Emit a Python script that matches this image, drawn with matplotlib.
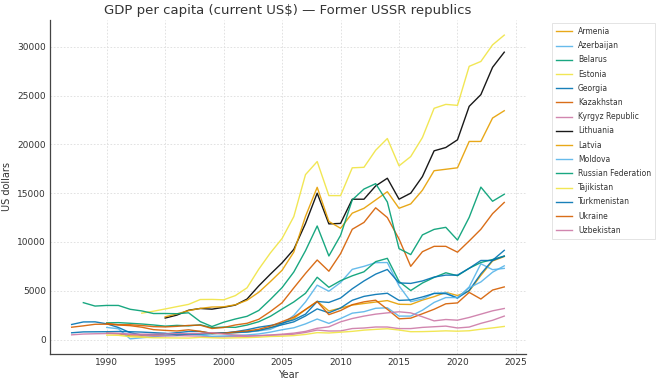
import numpy as np
import matplotlib
matplotlib.use("Agg")
import matplotlib.pyplot as plt

years = list(range(1987, 2025))
N = np.nan

armenia = [N, N, N, 640, 590, 370, 360, 400, 455, 510, 525, 610, 600, 620, 700, 780, 920, 1190, 1640, 2160, 3070, 3920, 2920, 3220, 3530, 3690, 3840, 3990, 3610, 3590, 4040, 4390, 4830, 4510, 4970, 6570, 8050, 8500]
azerbaijan = [N, N, N, 1237, 1100, 70, 180, 280, 400, 410, 505, 560, 575, 655, 705, 765, 885, 1045, 1580, 2470, 3850, 5570, 4950, 5840, 7190, 7500, 7880, 7890, 5500, 3880, 4150, 4740, 4810, 4230, 5390, 7760, 7160, 7290]
belarus = [N, N, N, 1705, 1730, 1665, 1590, 1490, 1370, 1450, 1400, 1510, 1210, 1275, 1245, 1480, 1820, 2380, 3125, 3850, 4735, 6380, 5350, 6030, 6530, 6940, 7980, 8320, 5950, 5020, 5790, 6360, 6840, 6540, 7300, 7890, 8200, 8550]
estonia = [N, N, N, N, N, N, 2700, 2900, 3130, 3370, 3600, 4100, 4110, 4070, 4500, 5300, 7200, 8880, 10360, 12600, 16900, 18240, 14750, 14750, 17600, 17650, 19400, 20600, 17800, 18750, 20700, 23700, 24100, 24000, 28000, 28500, 30200, 31200]
georgia = [1540, 1800, 1810, 1610, 1230, 700, 460, 520, 580, 700, 820, 830, 620, 690, 730, 780, 930, 1220, 1510, 1810, 2410, 3140, 2740, 3230, 4020, 4420, 4620, 4740, 4010, 4060, 4360, 4720, 4700, 4260, 5020, 6730, 8120, 9140]
kazakhstan = [N, N, N, 1650, 1510, 1515, 1435, 1320, 1290, 1350, 1445, 1470, 1130, 1230, 1490, 1660, 2070, 2870, 3770, 5290, 6770, 8150, 7000, 8800, 11300, 12000, 13500, 12500, 10300, 7500, 9000, 9550, 9550, 8950, 10100, 11300, 12900, 14050]
kyrgyz = [480, 560, 590, 610, 590, 520, 450, 380, 365, 395, 375, 345, 258, 280, 308, 322, 381, 433, 476, 543, 722, 966, 871, 880, 1124, 1178, 1282, 1280, 1121, 1120, 1242, 1308, 1374, 1182, 1276, 1655, 1970, 2400]
lithuania = [N, N, N, N, N, N, N, N, 2200, 2500, 3000, 3180, 3110, 3300, 3530, 4150, 5490, 6700, 7860, 9240, 11890, 15000, 11850, 11900, 14380, 14380, 15740, 16530, 14380, 15000, 16700, 19340, 19680, 20470, 23900, 25100, 27900, 29450]
latvia = [N, N, N, N, N, N, N, N, 2330, 2620, 2960, 3190, 3330, 3350, 3560, 4020, 4840, 5940, 7100, 8960, 12620, 15600, 12100, 11400, 12950, 13450, 14300, 15150, 13450, 13900, 15300, 17300, 17450, 17600, 20300, 20300, 22700, 23450]
moldova = [N, N, N, N, N, N, N, N, 500, 520, 560, 470, 330, 360, 410, 470, 570, 760, 1000, 1200, 1600, 2100, 1650, 2150, 2700, 2850, 3200, 3250, 2400, 2400, 3000, 3800, 4300, 4300, 5300, 5900, 6900, 7550]
russia = [N, 3777, 3428, 3493, 3490, 3098, 2929, 2663, 2666, 2644, 2738, 1835, 1331, 1772, 2101, 2378, 2976, 4109, 5323, 6920, 9101, 11635, 8563, 10675, 14311, 15421, 15974, 14096, 9313, 8704, 10720, 11287, 11498, 10194, 12520, 15620, 14170, 14890]
tajikistan = [N, N, N, 450, 430, 280, 230, 180, 170, 160, 150, 215, 175, 139, 170, 190, 237, 310, 337, 400, 520, 706, 668, 749, 835, 960, 1039, 1104, 969, 800, 809, 842, 889, 852, 897, 1054, 1188, 1340]
turkmenistan = [690, 780, 790, 800, 820, 800, 760, 700, 640, 480, 560, 570, 640, 650, 800, 1000, 1260, 1440, 1680, 2020, 2600, 3900, 3800, 4250, 5200, 6000, 6700, 7180, 5800, 5750, 6000, 6400, 6600, 6600, 7300, 8100, 8100, 8550]
ukraine = [1260, 1400, 1560, 1570, 1490, 1420, 1260, 1010, 935, 875, 995, 835, 635, 636, 780, 880, 1050, 1370, 1830, 2300, 3070, 3890, 2550, 2970, 3570, 3860, 4030, 3100, 2120, 2190, 2640, 3100, 3660, 3750, 4830, 4150, 5070, 5390]
uzbekistan = [N, N, N, 650, 640, 560, 550, 540, 580, 600, 600, 620, 700, 560, 460, 380, 400, 465, 547, 653, 831, 1150, 1300, 1810, 2150, 2400, 2600, 2730, 2840, 2730, 2330, 1910, 2050, 1980, 2260, 2600, 2940, 3180]

countries = ["Armenia", "Azerbaijan", "Belarus", "Estonia", "Georgia", "Kazakhstan",
             "Kyrgyz Republic", "Lithuania", "Latvia", "Moldova", "Russian Federation",
             "Tajikistan", "Turkmenistan", "Ukraine", "Uzbekistan"]
series = [armenia, azerbaijan, belarus, estonia, georgia, kazakhstan, kyrgyz,
          lithuania, latvia, moldova, russia, tajikistan, turkmenistan, ukraine, uzbekistan]

palette = ["#E69F00", "#56B4E9", "#009E73", "#F0E442", "#0072B2", "#D55E00", "#CC79A7", "#000000"]

fig = plt.figure(figsize=(6.6, 3.84), dpi=100)
ax = fig.add_axes([0.0758, 0.0781, 0.721, 0.87])

for i, (name, vals) in enumerate(zip(countries, series)):
    ax.plot(years, np.array(vals, dtype=float), color=palette[i % 8], lw=1.0,
            alpha=0.9, label=name)

ax.set_title("GDP per capita (current US$) \u2014 Former USSR republics", fontsize=9.5,
             color="#333333", pad=4)
ax.set_xlabel("Year", fontsize=7, color="#333333", labelpad=2)
ax.set_ylabel("US dollars", fontsize=7, color="#333333", labelpad=4)
ax.tick_params(labelsize=6.5, colors="#333333", length=0, pad=3)
ax.grid(True, linestyle=(0, (2, 2)), color="#dddddd", linewidth=0.6)
for s in ["top", "right"]:
    ax.spines[s].set_visible(False)
for s in ["left", "bottom"]:
    ax.spines[s].set_color("#444444")
    ax.spines[s].set_linewidth(0.9)

leg = ax.legend(loc="upper left", bbox_to_anchor=(1.055, 0.99), borderaxespad=0,
                fontsize=5.5, frameon=True, fancybox=False, handlelength=2.1,
                handletextpad=0.8, labelspacing=0.68, borderpad=0.5)
leg.get_frame().set_edgecolor("#dddddd")
leg.get_frame().set_linewidth(0.7)
for t in leg.get_texts():
    t.set_color("#333333")

fig.savefig("out.png", dpi=100)
